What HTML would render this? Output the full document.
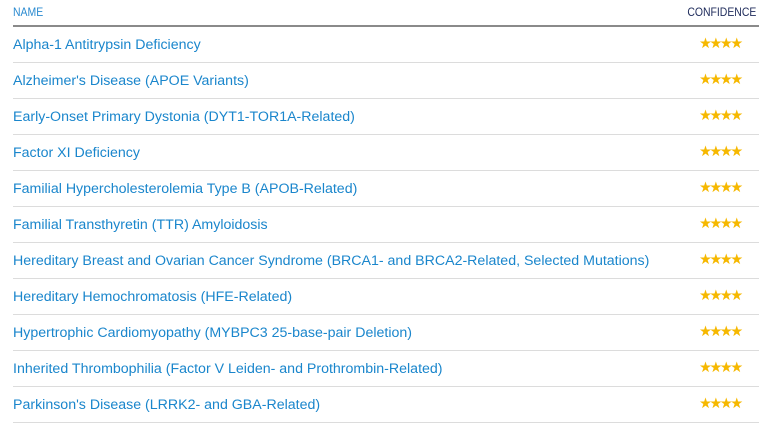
<!DOCTYPE html>
<html><head><style>
body{margin:0;width:759px;height:424px;background:#fff;font-family:"Liberation Sans",sans-serif;position:relative;overflow:hidden}
.h{position:absolute;top:5px;font-size:12px;letter-spacing:0;transform:scaleX(0.87)}
.hl{position:absolute;left:13px;right:0;top:25px;height:2px;background:#8a8a8a}
.r{position:absolute;left:13px;right:0;height:36px;border-bottom:1px solid #dcdcdc;box-sizing:border-box}
.t{position:absolute;left:0;top:10px;font-size:14.2px;color:#1a86cc;white-space:nowrap}
.s{position:absolute;left:686px;top:9px;font-size:14.5px;color:#f6b800;letter-spacing:-2.6px}
</style></head><body>
<div class="h" style="left:13px;color:#2a8ad0;transform-origin:left">NAME</div>
<div class="h" style="right:3px;color:#1d2a5a;transform-origin:right">CONFIDENCE</div>
<div class="hl"></div>
<div class="r" style="top:27px"><div class="t">Alpha-1 Antitrypsin Deficiency</div><div class="s">★★★★</div></div>
<div class="r" style="top:63px"><div class="t">Alzheimer's Disease (APOE Variants)</div><div class="s">★★★★</div></div>
<div class="r" style="top:99px"><div class="t">Early-Onset Primary Dystonia (DYT1-TOR1A-Related)</div><div class="s">★★★★</div></div>
<div class="r" style="top:135px"><div class="t">Factor XI Deficiency</div><div class="s">★★★★</div></div>
<div class="r" style="top:171px"><div class="t">Familial Hypercholesterolemia Type B (APOB-Related)</div><div class="s">★★★★</div></div>
<div class="r" style="top:207px"><div class="t">Familial Transthyretin (TTR) Amyloidosis</div><div class="s">★★★★</div></div>
<div class="r" style="top:243px"><div class="t">Hereditary Breast and Ovarian Cancer Syndrome (BRCA1- and BRCA2-Related, Selected Mutations)</div><div class="s">★★★★</div></div>
<div class="r" style="top:279px"><div class="t">Hereditary Hemochromatosis (HFE-Related)</div><div class="s">★★★★</div></div>
<div class="r" style="top:315px"><div class="t">Hypertrophic Cardiomyopathy (MYBPC3 25-base-pair Deletion)</div><div class="s">★★★★</div></div>
<div class="r" style="top:351px"><div class="t">Inherited Thrombophilia (Factor V Leiden- and Prothrombin-Related)</div><div class="s">★★★★</div></div>
<div class="r" style="top:387px"><div class="t">Parkinson's Disease (LRRK2- and GBA-Related)</div><div class="s">★★★★</div></div>
</body></html>
